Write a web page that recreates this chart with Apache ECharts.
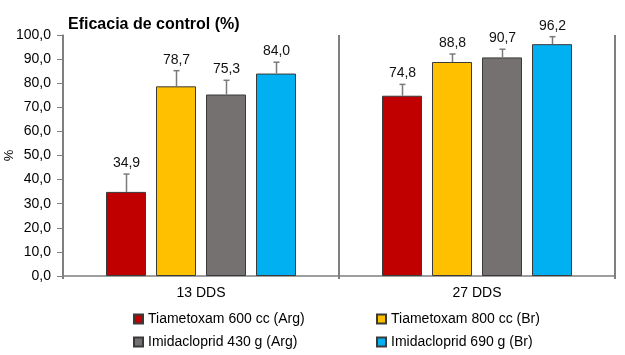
<!DOCTYPE html>
<html>
<head>
<meta charset="utf-8">
<script src="https://cdn.jsdelivr.net/npm/echarts@6/dist/echarts.min.js"></script>
<style>html,body{margin:0;padding:0;background:#fff}#c{width:625px;height:355px}</style>
</head>
<body>
<div id="c"></div>
<script>
var categories = ['13 DDS', '27 DDS'];
var seriesNames = ['Tiametoxam 600 cc (Arg)', 'Tiametoxam 800 cc (Br)', 'Imidacloprid 430 g (Arg)', 'Imidacloprid 690 g (Br)'];
var tiametoxam600 = [34.9, 74.8];
var tiametoxam800 = [78.7, 88.8];
var imidacloprid430 = [75.3, 90.7];
var imidacloprid690 = [84.0, 96.2];
var err600 = [7.4, 4.7];
var err800 = [6.5, 3.3];
var err430 = [5.9, 3.4];
var err690 = [4.7, 3.1];
var colors = ['#C00000', '#FFC000', '#767171', '#00B0F0'];
var yTicks = [0, 10, 20, 30, 40, 50, 60, 70, 80, 90, 100];

var values = [tiametoxam600, tiametoxam800, imidacloprid430, imidacloprid690];
var errs = [err600, err800, err430, err690];
var FONT = '"Liberation Sans", Arial, sans-serif';
var BAR_W = 40, STEP = 50;

function fmt(v) { return v.toFixed(1).replace('.', ','); }

var series = [];
values.forEach(function (vals, i) {
  series.push({
    name: seriesNames[i],
    type: 'bar',
    data: vals,
    barWidth: BAR_W,
    barGap: '25%',
    itemStyle: { color: colors[i], borderColor: '#3a3a3a', borderWidth: 1 },
    z: 2
  });
});
values.forEach(function (vals, i) {
  series.push({
    type: 'custom',
    name: 'err' + i,
    z: 5,
    silent: true,
    data: vals.map(function (v, k) { return [k, v, errs[i][k]]; }),
    encode: { x: 0, y: 1 },
    renderItem: function (params, api) {
      var k = api.value(0), v = api.value(1), e = api.value(2);
      var base = api.coord([k, v]);
      var top = api.coord([k, v + e]);
      var x = Math.round(base[0] + (i - 1.5) * STEP) + 0.5;
      var style = { stroke: '#7a7a7a', lineWidth: 1.5 };
      return {
        type: 'group',
        children: [
          { type: 'line', shape: { x1: x, y1: base[1], x2: x, y2: top[1] }, style: style },
          { type: 'line', shape: { x1: x - 3, y1: top[1], x2: x + 3, y2: top[1] }, style: style },
          { type: 'text', x: x, y: top[1] - 4,
            style: { text: fmt(v), fill: '#111', font: '14px ' + FONT, align: 'center', verticalAlign: 'bottom' } }
        ]
      };
    }
  });
});

var legendBase = {
  orient: 'vertical', top: 312, itemGap: 9, padding: 0, height: 44,
  itemWidth: 9, itemHeight: 9, icon: 'rect',
  textStyle: { fontFamily: FONT, fontSize: 14, color: '#000' }
};

var chart = echarts.init(document.getElementById('c'), null, { renderer: 'canvas' });
chart.setOption({
  animation: false,
  backgroundColor: '#fff',
  title: {
    text: 'Eficacia de control (%)',
    left: 63, top: 12,
    textStyle: { fontFamily: FONT, fontSize: 16, fontWeight: 'bold', color: '#000' }
  },
  legend: [
    Object.assign({}, legendBase, { data: [seriesNames[0], seriesNames[2]], left: 133 }),
    Object.assign({}, legendBase, { data: [seriesNames[1], seriesNames[3]], left: 376 })
  ],
  grid: { left: 63, right: 10, top: 35, bottom: 79, containLabel: false, outerBoundsMode: 'none' },
  xAxis: {
    type: 'category',
    data: categories,
    axisLine: { lineStyle: { color: '#7f7f7f', width: 1.5 } },
    axisTick: { show: true, length: 3, lineStyle: { color: '#7f7f7f', width: 2 } },
    splitLine: { show: true, lineStyle: { color: '#7f7f7f', width: 2 } },
    axisLabel: { fontFamily: FONT, fontSize: 14, color: '#000', margin: 10 }
  },
  yAxis: {
    type: 'value',
    min: yTicks[0], max: yTicks[yTicks.length - 1], interval: 10,
    name: '%',
    nameLocation: 'middle',
    nameGap: 47,
    nameRotate: 90,
    nameMoveOverlap: false,
    nameTextStyle: { fontFamily: FONT, fontSize: 13, color: '#000' },
    axisLine: { show: true, lineStyle: { color: '#7f7f7f', width: 1.5 } },
    axisTick: { show: true, length: 6, lineStyle: { color: '#7f7f7f' } },
    splitLine: { show: false },
    axisLabel: { fontFamily: FONT, fontSize: 14, color: '#000', margin: 12, formatter: function (v) { return fmt(v); } }
  },
  series: series
});
</script>
</body>
</html>
